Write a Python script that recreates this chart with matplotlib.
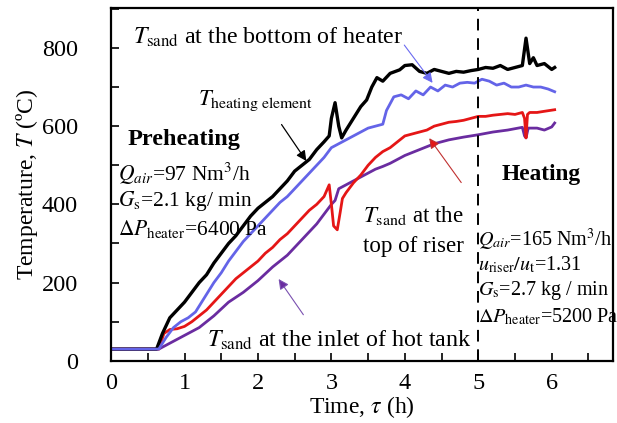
import matplotlib
matplotlib.use("Agg")
import matplotlib.pyplot as plt
from matplotlib.ticker import MultipleLocator

plt.rcParams['font.family'] = ['Liberation Serif', 'DejaVu Serif']
plt.rcParams['mathtext.fontset'] = 'stix'

# heating element (black)
t_heat = [0, 0.62, 0.7, 0.8, 0.9, 1.0, 1.1, 1.2, 1.3, 1.4, 1.5, 1.6, 1.7, 1.8, 1.9, 2.0,
          2.1, 2.2, 2.3, 2.4, 2.5, 2.6, 2.7, 2.8, 2.9, 2.97, 3.0, 3.05, 3.1, 3.14, 3.2, 3.3,
          3.4, 3.48, 3.55, 3.62, 3.7, 3.8, 3.93, 4.0, 4.1, 4.2, 4.3, 4.4, 4.5, 4.6, 4.7,
          4.8, 4.9, 5.0, 5.1, 5.2, 5.3, 5.4, 5.5, 5.6, 5.65, 5.7, 5.75, 5.8, 5.9, 6.0, 6.04]
T_heat = [30, 30, 70, 110, 130, 150, 175, 200, 220, 250, 275, 300, 320, 345, 370, 390,
          405, 420, 440, 460, 485, 500, 515, 540, 560, 575, 620, 660, 600, 570, 590, 620,
          650, 667, 700, 724, 715, 735, 744, 755, 757, 740, 735, 745, 740, 735, 740,
          738, 742, 745, 750, 748, 755, 745, 750, 755, 825, 760, 775, 755, 760, 745, 750]

# sand at bottom of heater (blue)
t_bot = [0, 0.65, 0.75, 0.85, 0.95, 1.05, 1.15, 1.2, 1.3, 1.4, 1.5, 1.6, 1.7, 1.8, 1.9, 2.0,
         2.1, 2.2, 2.3, 2.4, 2.5, 2.6, 2.7, 2.8, 2.9, 3.0, 3.1, 3.2, 3.3, 3.4, 3.5, 3.6, 3.7,
         3.75, 3.85, 3.95, 4.05, 4.15, 4.25, 4.35, 4.45, 4.55, 4.65, 4.75, 4.85, 4.95, 5.05,
         5.15, 5.25, 5.35, 5.45, 5.55, 5.65, 5.75, 5.85, 5.95, 6.04]
T_bot = [30, 30, 60, 85, 100, 110, 125, 140, 170, 200, 225, 255, 280, 305, 325, 345,
         365, 385, 405, 420, 440, 460, 480, 500, 520, 545, 555, 565, 575, 585, 595, 600, 605,
         640, 675, 680, 670, 690, 680, 700, 690, 705, 700, 710, 712, 710, 720,
         715, 705, 710, 700, 700, 705, 700, 700, 695, 688]

# sand at top of riser (red)
t_top = [0, 0.65, 0.72, 0.8, 0.9, 1.0, 1.1, 1.2, 1.3, 1.4, 1.5, 1.6, 1.7, 1.8, 1.9, 2.0,
         2.1, 2.2, 2.3, 2.4, 2.5, 2.6, 2.7, 2.8, 2.9, 2.97, 3.0, 3.03, 3.08, 3.12, 3.15, 3.2,
         3.3, 3.4, 3.5, 3.6, 3.7, 3.8, 3.9, 4.0, 4.1, 4.2, 4.3, 4.4, 4.5, 4.6, 4.7, 4.8, 4.9,
         5.0, 5.1, 5.2, 5.3, 5.4, 5.5, 5.6, 5.63, 5.65, 5.67, 5.7, 5.8, 5.9, 6.04]
T_top = [30, 30, 70, 80, 82, 88, 100, 115, 130, 150, 170, 190, 210, 225, 240, 255,
         275, 290, 310, 325, 345, 365, 385, 400, 420, 450, 400, 345, 335, 380, 415, 430,
         455, 475, 500, 520, 535, 545, 560, 575, 580, 585, 590, 600, 605, 610, 612, 615, 620,
         625, 625, 628, 630, 632, 630, 635, 620, 570, 630, 635, 635, 638, 642]

# sand at inlet of hot tank (purple)
t_inl = [0, 0.65, 0.8, 1.0, 1.2, 1.4, 1.6, 1.8, 2.0, 2.2, 2.4, 2.6, 2.8, 3.0, 3.05, 3.1,
         3.2, 3.3, 3.4, 3.5, 3.6, 3.7, 3.8, 3.9, 4.0, 4.2, 4.4, 4.6, 4.8, 5.0, 5.2, 5.4, 5.6,
         5.63, 5.65, 5.68, 5.8, 5.9, 6.0, 6.04]
T_inl = [30, 30, 45, 65, 85, 115, 150, 175, 205, 240, 270, 310, 350, 400, 410, 440,
         450, 460, 470, 480, 490, 497, 505, 515, 525, 540, 555, 565, 572, 578, 585, 590, 597,
         575, 570, 595, 595, 590, 598, 608]

fig = plt.figure(figsize=(6.17, 4.23), dpi=100)
ax = fig.add_axes([0.18, 0.147, 0.813, 0.834])

ax.plot(t_inl, T_inl, color='#6a2ca0', lw=2.0)
ax.plot(t_top, T_top, color='#e51616', lw=2.0)
ax.plot(t_heat, T_heat, color='black', lw=2.4)
ax.plot(t_bot, T_bot, color='#6464e8', lw=2.0)

ax.axvline(5, color='black', lw=1.4, ls=(0, (6, 4)))

ax.set_xlim(0, 6.83)
ax.set_ylim(0, 902)
ax.xaxis.set_major_locator(MultipleLocator(1))
ax.xaxis.set_minor_locator(MultipleLocator(0.5))
ax.yaxis.set_major_locator(MultipleLocator(200))
ax.yaxis.set_minor_locator(MultipleLocator(100))
ax.tick_params(which='both', direction='in', labelsize=17.5, width=1.2, length=6)
ax.tick_params(axis='x', pad=9)
ax.tick_params(axis='y', pad=24)
for s in ax.spines.values():
    s.set_linewidth(1.6)

ax.set_xlabel(r'Time, $\tau$ (h)', fontsize=17, labelpad=0)
ax.set_ylabel(r'Temperature, $T$ (ºC)', fontsize=17, labelpad=1)

big = 17.3
left = 15.5
right = 14.5
ax.text(0.3, 826, r'$T_{\rm sand}$ at the bottom of heater', fontsize=big, va='center')
ax.text(1.18, 665, r'$T_{\rm heating\ element}$', fontsize=16.3, va='center')
ax.text(0.23, 565, 'Preheating', fontsize=17.5, fontweight='bold', va='center')
ax.text(0.095, 478, r'$Q_{air}$=97 Nm$^3$/h', fontsize=left, va='center')
ax.text(0.095, 408, r'$G_{\rm s}$=2.1 kg/ min', fontsize=left, va='center')
ax.text(0.095, 337, r'$\Delta P_{\rm heater}$=6400 Pa', fontsize=left, va='center')
ax.text(3.43, 372, r'$T_{\rm sand}$ at the', fontsize=16.6, va='center')
ax.text(3.43, 293, 'top of riser', fontsize=16.6, va='center')
ax.text(5.32, 476, 'Heating', fontsize=16.8, fontweight='bold', va='center')
ax.text(4.99, 310, r'$Q_{air}$=165 Nm$^3$/h', fontsize=right, va='center')
ax.text(4.99, 245, r'$u_{\rm riser}/u_{\rm t}$=1.31', fontsize=right, va='center')
ax.text(4.99, 180, r'$G_{\rm s}$=2.7 kg / min', fontsize=right, va='center')
ax.text(4.99, 112, r'$\Delta P_{\rm heater}$=5200 Pa', fontsize=right, va='center')
ax.text(1.3, 52, r'$T_{\rm sand}$ at the inlet of hot tank', fontsize=big, va='center')

ax.annotate('', xy=(4.4, 705), xytext=(3.97, 813),
            arrowprops=dict(arrowstyle='-|>', color='#6a6af0', lw=0.8, mutation_scale=15))
ax.annotate('', xy=(2.68, 505), xytext=(2.3, 610),
            arrowprops=dict(arrowstyle='-|>', color='black', lw=0.9, mutation_scale=15))
ax.annotate('', xy=(4.31, 575), xytext=(4.79, 450),
            arrowprops=dict(arrowstyle='-|>', color='#c03030', lw=0.8,
                            mutation_scale=15, fc='#e51616'))
ax.annotate('', xy=(2.26, 215), xytext=(2.64, 112),
            arrowprops=dict(arrowstyle='-|>', color='#7a50b0', lw=0.8,
                            mutation_scale=15, fc='#6a2ca0'))

fig.savefig('out.png', dpi=100)
